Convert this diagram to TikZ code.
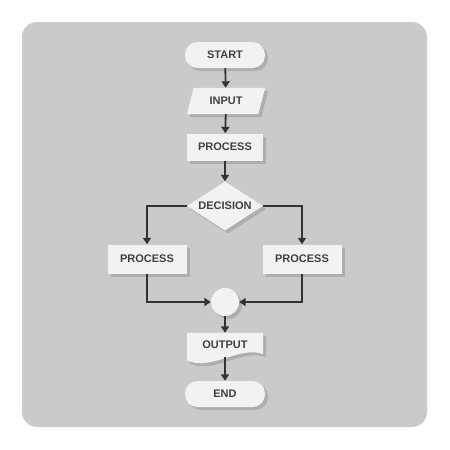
\documentclass[tikz,border=0pt]{standalone}
\usepackage{fontspec}
\setmainfont{Liberation Sans}
\usetikzlibrary{shapes.geometric, shadows, arrows.meta}
\definecolor{panelgray}{HTML}{CBCACB}
\definecolor{boxfill}{HTML}{F2F2F2}
\definecolor{inkgray}{HTML}{333333}
\definecolor{textgray}{HTML}{404040}

\begin{document}
\begin{tikzpicture}[x=1pt, y=-1pt,
    boxshadow/.style={drop shadow={shadow xshift=3pt, shadow yshift=-3pt, fill=black!45, opacity=0.45}},
    labelfont/.style={text=textgray, font=\fontsize{11}{13}\selectfont\bfseries},
    base/.style={fill=boxfill, boxshadow, labelfont, inner sep=0pt},
    box/.style={base, rectangle, minimum width=76pt, minimum height=27pt},
    sidebox/.style={box, minimum width=79pt, minimum height=29pt},
    capsule/.style={base, rectangle, rounded corners=12.5pt, minimum width=80pt, minimum height=26pt},
    frame/.style={rectangle, labelfont, inner sep=0pt, minimum width=78pt, minimum height=26pt},
    decision/.style={base, diamond, aspect=2, minimum width=76pt, minimum height=49pt},
    joint/.style={base, circle, minimum size=28pt},
    flow/.style={draw=inkgray, line width=1.8pt, -{Triangle[length=6.5pt, width=8pt]}}]

    % background
    \useasboundingbox (0, 0) rectangle (450, 450);
    \fill[panelgray, rounded corners=15pt] (22, 22) rectangle (427, 427);

    % nodes
    \node[capsule] (start) at (225, 55) {START};
    \node[frame] (input) at (226, 101) {};
    \fill[boxfill, boxshadow] (input.south west) -- ([xshift=7pt]input.north west)
        -- (input.north east) -- ([xshift=-7pt]input.south east) -- cycle;
    \node[labelfont] at (input.center) {INPUT};
    \node[box] (proc) at (225, 147) {PROCESS};
    \node[decision] (dec) at (225, 206) {DECISION};
    \node[sidebox] (procL) at (147, 259) {PROCESS};
    \node[sidebox] (procR) at (302, 259) {PROCESS};
    \node[joint] (join) at (225, 302) {};
    \node[frame, minimum width=76pt, minimum height=24pt] (output) at (225, 345) {};
    \fill[boxfill, boxshadow] (output.north west) -- (output.north east) -- ([yshift=3pt]output.south east)
        .. controls (240, 345) and (210, 372) .. ([yshift=-3pt]output.south west) -- cycle;
    \node[labelfont] at (output.center) {OUTPUT};
    \node[capsule] (end) at (225, 394) {END};

    % arrows
    \draw[flow] (start) -- (input);
    \draw[flow] (input) -- (proc);
    \draw[flow] (proc) -- (dec);
    \draw[flow] (dec.west) -| (procL.north);
    \draw[flow] (dec.east) -| (procR.north);
    \draw[flow] (procL.south) |- (join.west);
    \draw[flow] (procR.south) |- (join.east);
    \draw[flow] (join) -- (output);
    \draw[flow] (output.south) -- (end);
\end{tikzpicture}
\end{document}
